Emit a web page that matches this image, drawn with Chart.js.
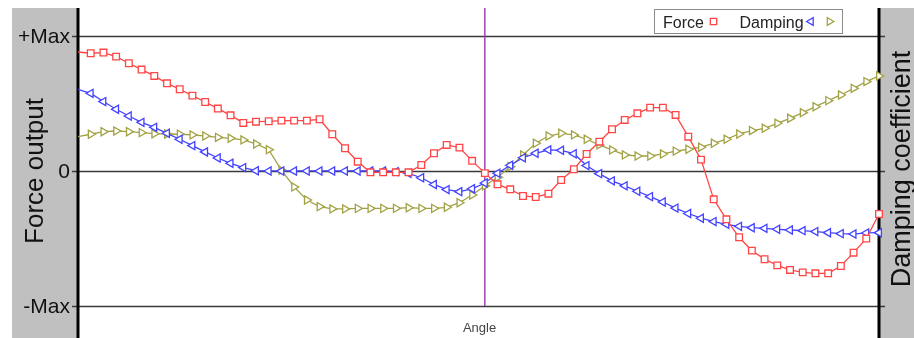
<!DOCTYPE html>
<html>
<head>
<meta charset="utf-8">
<title>Force output and damping coefficient vs angle</title>
<script src="https://cdn.jsdelivr.net/npm/chart.js@4.4.1/dist/chart.umd.min.js"></script>
<style>
  html, body { margin: 0; padding: 0; background: #ffffff; }
  #wrap { width: 914px; height: 338px; position: relative; }
  canvas { display: block; }
</style>
</head>
<body>
<div id="wrap"><canvas id="chart" width="914" height="338"></canvas></div>
<script>
// Angle steps (64 samples over one revolution)
const angleSteps = Array.from({ length: 64 }, (_, i) => String(i));

// Force output, normalised to +/-Max
const forceOutput = [
  0.881, 0.872, 0.877, 0.847, 0.798, 0.751, 0.704, 0.649, 0.605, 0.558,
  0.511, 0.462, 0.412, 0.356, 0.365, 0.368, 0.373, 0.373, 0.373, 0.383,
  0.272, 0.168, 0.069, -0.010, -0.010, -0.010, -0.010, 0.044, 0.131, 0.193,
  0.173, 0.075, -0.016, -0.099, -0.136, -0.185, -0.193, -0.168, -0.067, 0.013,
  0.126, 0.217, 0.309, 0.378, 0.427, 0.469, 0.469, 0.415, 0.254, 0.084,
  -0.210, -0.358, -0.491, -0.590, -0.654, -0.699, -0.733, -0.751, -0.758, -0.758,
  -0.704, -0.605, -0.501, -0.319
];

// Damping coefficient, first branch (left-pointing markers)
const dampingLeft = [
  0.605, 0.575, 0.514, 0.457, 0.407, 0.360, 0.323, 0.279, 0.235, 0.188,
  0.141, 0.096, 0.057, 0.025, 0.002, 0.000, 0.000, 0.000, 0.000, 0.000,
  0.000, 0.000, 0.000, 0.000, 0.000, -0.005, -0.017, -0.050, -0.100, -0.138,
  -0.153, -0.132, -0.089, -0.017, 0.042, 0.098, 0.131, 0.156, 0.153, 0.128,
  0.040, -0.020, -0.073, -0.110, -0.150, -0.190, -0.230, -0.275, -0.315, -0.350,
  -0.375, -0.395, -0.410, -0.420, -0.425, -0.432, -0.437, -0.442, -0.449, -0.457,
  -0.464, -0.467, -0.459, -0.457
];

// Damping coefficient, second branch (right-pointing markers)
const dampingRight = [
  0.254, 0.272, 0.291, 0.296, 0.291, 0.284, 0.276, 0.274, 0.272, 0.267,
  0.259, 0.249, 0.242, 0.230, 0.200, 0.158, 0.006, -0.118, -0.215, -0.264,
  -0.281, -0.281, -0.277, -0.277, -0.277, -0.277, -0.272, -0.277, -0.277, -0.269,
  -0.235, -0.178, -0.110, -0.047, 0.032, 0.119, 0.205, 0.259, 0.279, 0.267,
  0.235, 0.193, 0.156, 0.119, 0.111, 0.111, 0.126, 0.147, 0.161, 0.176,
  0.205, 0.235, 0.274, 0.299, 0.316, 0.353, 0.390, 0.432, 0.476, 0.521,
  0.563, 0.612, 0.662, 0.704
];

// Value axis ticks and their labels
const tickValues = [-1, 0, 1];
const tickLabels = ['-Max', '0', '+Max'];

// Angle step where the reference marker line sits
const markerStep = 32;

const RED = '#ff4545';
const BLUE = '#4343ff';
const OLIVE = '#a2a245';
const FONT = '"Liberation Sans", Arial, Helvetica, sans-serif';

function markerRadius(c) { return c.dataIndex === 0 ? 0 : 4.7; }

function drawSquare(ctx, x, y, color) {
  ctx.save();
  ctx.fillStyle = '#fff';
  ctx.strokeStyle = color;
  ctx.lineWidth = 1.3;
  ctx.beginPath();
  ctx.rect(x - 3.2, y - 3.2, 6.4, 6.4);
  ctx.fill();
  ctx.stroke();
  ctx.restore();
}

function drawTriangle(ctx, x, y, color, dir) {
  const r = 4.4;
  ctx.save();
  ctx.fillStyle = '#fff';
  ctx.strokeStyle = color;
  ctx.lineWidth = 1.3;
  ctx.beginPath();
  ctx.moveTo(x + dir * r, y);
  ctx.lineTo(x - dir * r / 2, y - r * 0.866);
  ctx.lineTo(x - dir * r / 2, y + r * 0.866);
  ctx.closePath();
  ctx.fill();
  ctx.stroke();
  ctx.restore();
}

const framePlugin = {
  id: 'frame',
  beforeDatasetsDraw(chart) {
    const { ctx, chartArea: a, scales: { x, y } } = chart;
    ctx.save();
    // side panels
    ctx.fillStyle = '#c0c0c0';
    ctx.fillRect(12, a.top, a.left - 12, a.bottom - a.top);
    ctx.fillRect(a.right, a.top, chart.width - a.right, a.bottom - a.top);

    // horizontal reference lines with short ticks on both sides
    ctx.strokeStyle = '#3a3a3a';
    ctx.lineWidth = 1.3;
    tickValues.forEach(v => {
      const py = Math.round(y.getPixelForValue(v)) + 0.5;
      ctx.beginPath();
      ctx.moveTo(a.left - 6, py);
      ctx.lineTo(a.right + 6, py);
      ctx.stroke();
    });

    // vertical marker line
    const mx = x.getPixelForValue(markerStep);
    ctx.strokeStyle = '#9a35b0';
    ctx.lineWidth = 1.4;
    ctx.beginPath();
    ctx.moveTo(mx, a.top);
    ctx.lineTo(mx, y.getPixelForValue(-1));
    ctx.stroke();

    // axis lines
    ctx.strokeStyle = '#000';
    ctx.lineWidth = 3;
    ctx.beginPath();
    ctx.moveTo(a.left, a.top);
    ctx.lineTo(a.left, a.bottom);
    ctx.moveTo(a.right, a.top);
    ctx.lineTo(a.right, a.bottom);
    ctx.stroke();

    // tick labels
    ctx.fillStyle = '#111';
    ctx.font = '21px ' + FONT;
    ctx.textAlign = 'right';
    ctx.textBaseline = 'middle';
    tickValues.forEach((v, i) => {
      ctx.fillText(tickLabels[i], a.left - 8, y.getPixelForValue(v) + 1);
    });

    // axis titles
    const midY = y.getPixelForValue(0);
    ctx.textAlign = 'center';
    ctx.textBaseline = 'alphabetic';
    ctx.save();
    ctx.translate(43, midY);
    ctx.rotate(-Math.PI / 2);
    ctx.font = '26px ' + FONT;
    ctx.fillText('Force output', 0, 0);
    ctx.restore();

    ctx.save();
    ctx.translate(a.right + 31, midY - 2);
    ctx.rotate(-Math.PI / 2);
    ctx.font = '27px ' + FONT;
    ctx.fillText('Damping coefficient', 0, 0);
    ctx.restore();

    ctx.fillStyle = '#444';
    ctx.font = '13px ' + FONT;
    ctx.fillText('Angle', (a.left + a.right) / 2 + 1, a.bottom - 6);
    ctx.restore();
  },
  afterDatasetsDraw(chart) {
    const { ctx } = chart;
    ctx.save();
    // legend box
    ctx.fillStyle = '#fff';
    ctx.fillRect(654.5, 9.5, 188, 24);
    ctx.strokeStyle = '#8a8a8a';
    ctx.lineWidth = 1;
    ctx.strokeRect(654.5, 9.5, 188, 24);

    ctx.fillStyle = '#222';
    ctx.font = '16px ' + FONT;
    ctx.textAlign = 'left';
    ctx.textBaseline = 'alphabetic';
    ctx.fillText('Force', 663, 27.5);
    drawSquare(ctx, 713.5, 21.5, RED);
    ctx.fillStyle = '#222';
    ctx.fillText('Damping', 739.5, 27.5);
    drawTriangle(ctx, 811, 21.5, BLUE, -1);
    drawTriangle(ctx, 829.5, 21.5, OLIVE, 1);
    ctx.restore();
  }
};

new Chart(document.getElementById('chart'), {
  type: 'line',
  data: {
    labels: angleSteps,
    datasets: [
      {
        label: 'Force',
        data: forceOutput,
        borderColor: RED,
        borderWidth: 1.3,
        pointStyle: 'rect',
        pointRadius: markerRadius,
        pointBorderColor: RED,
        pointBackgroundColor: '#fff',
        pointBorderWidth: 1.3,
        tension: 0,
        clip: false
      },
      {
        label: 'Damping',
        data: dampingLeft,
        borderColor: BLUE,
        borderWidth: 1.3,
        pointStyle: 'triangle',
        rotation: -90,
        pointRadius: markerRadius,
        pointBorderColor: BLUE,
        pointBackgroundColor: '#fff',
        pointBorderWidth: 1.3,
        tension: 0,
        clip: false
      },
      {
        label: 'Damping',
        data: dampingRight,
        borderColor: OLIVE,
        borderWidth: 1.3,
        pointStyle: 'triangle',
        rotation: 90,
        pointRadius: markerRadius,
        pointBorderColor: OLIVE,
        pointBackgroundColor: '#fff',
        pointBorderWidth: 1.3,
        tension: 0,
        clip: false
      }
    ]
  },
  options: {
    responsive: false,
    devicePixelRatio: 1,
    animation: false,
    events: [],
    layout: { autoPadding: false, padding: { left: 78, right: 35, top: 8, bottom: 0 } },
    plugins: { legend: { display: false }, tooltip: { enabled: false } },
    scales: {
      x: { type: 'category', display: false, offset: false },
      y: { display: false, min: -1.237, max: 1.207 }
    }
  },
  plugins: [framePlugin]
});
</script>
</body>
</html>
